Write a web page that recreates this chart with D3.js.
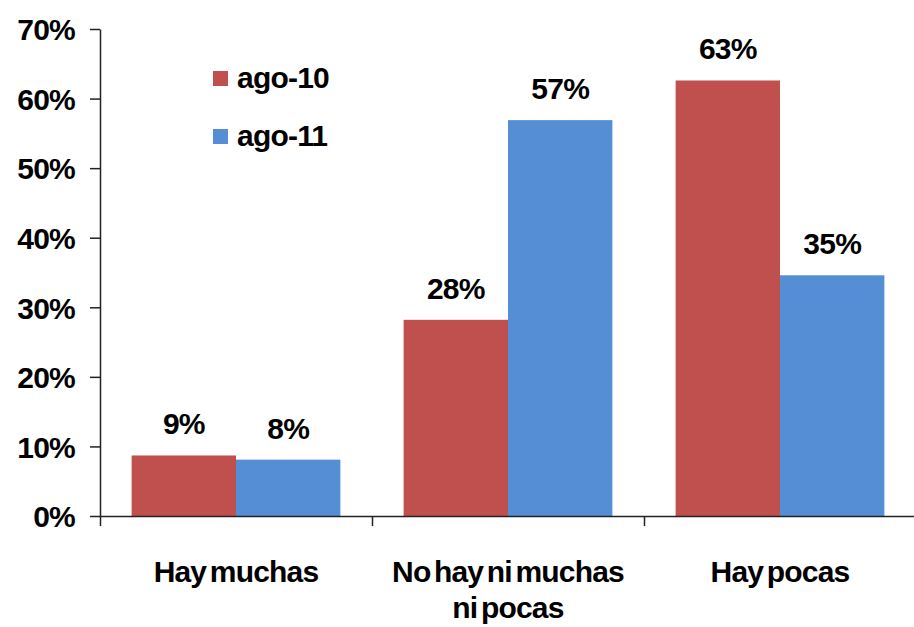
<!DOCTYPE html>
<html>
<head>
<meta charset="utf-8">
<script src="https://cdn.jsdelivr.net/npm/d3@7"></script>
<style>
  html, body { margin: 0; padding: 0; background: #fff; }
  svg text { font-family: "Liberation Sans", Arial, sans-serif; font-weight: bold; fill: #000; letter-spacing: -0.8px; }
</style>
</head>
<body>
<svg id="chart" width="914" height="627"></svg>
<script>
const categories = [["Hay muchas"], ["No hay ni muchas", "ni pocas"], ["Hay pocas"]];
const seriesNames = ["ago-10", "ago-11"];
const seriesColors = ["#C0504D", "#558ED5"];
const ago10 = [0.087, 0.282, 0.626];
const ago11 = [0.081, 0.569, 0.346];
const ago10Labels = ["9%", "28%", "63%"];
const ago11Labels = ["8%", "57%", "35%"];
const yTicks = [0, 0.1, 0.2, 0.3, 0.4, 0.5, 0.6, 0.7];

(function () {
const svg = d3.select("#chart");
const mLeft = 100, mRight = 916, mTop = 29, mBottom = 516;

const x0 = d3.scaleBand().domain(d3.range(categories.length)).range([mLeft, mRight]).paddingInner(0.2325).paddingOuter(0.11625);
const x1 = d3.scaleBand().domain(d3.range(seriesNames.length)).range([0, x0.bandwidth()]);
const y = d3.scaleLinear().domain([0, 0.7]).range([mBottom, mTop]);
const xb = d3.scaleLinear().domain([0, categories.length]).range([mLeft, mRight]);

const series = [ago10, ago11];
const labels = [ago10Labels, ago11Labels];

// bars
series.forEach((vals, s) => {
  svg.append("g").selectAll("rect").data(vals).join("rect")
    .attr("x", (d, i) => x0(i) + x1(s))
    .attr("y", d => y(d))
    .attr("width", x1.bandwidth())
    .attr("height", d => y(0) - y(d))
    .attr("fill", seriesColors[s]);
  svg.append("g").selectAll("text").data(vals).join("text")
    .attr("x", (d, i) => x0(i) + x1(s) + x1.bandwidth() / 2)
    .attr("y", d => y(d) - 21)
    .attr("text-anchor", "middle")
    .attr("font-size", 30)
    .text((d, i) => labels[s][i]);
});

// y axis
const yAxis = svg.append("g").attr("transform", `translate(${mLeft},0)`)
  .call(d3.axisLeft(y).tickValues(yTicks).tickFormat(d3.format(".0%")).tickSize(10).tickSizeOuter(0).tickPadding(15));
yAxis.attr("font-family", null).attr("font-size", null);
yAxis.select(".domain").attr("stroke", "#222").attr("stroke-width", 1.5);
yAxis.selectAll(".tick line").attr("stroke", "#222").attr("stroke-width", 1.5);
yAxis.selectAll(".tick text").attr("font-size", 30).attr("dy", "0.36em");

// x axis
const xAxis = svg.append("g").attr("transform", `translate(0,${mBottom})`)
  .call(d3.axisBottom(xb).tickValues(d3.range(categories.length + 1)).tickFormat("").tickSize(10).tickSizeOuter(0));
xAxis.select(".domain").attr("stroke", "#222").attr("stroke-width", 1.5);
xAxis.selectAll(".tick line").attr("stroke", "#222").attr("stroke-width", 1.5);

// category labels
categories.forEach((lines, i) => {
  const cx = x0(i) + x0.bandwidth() / 2;
  const t = svg.append("text")
    .attr("x", cx)
    .attr("y", 582)
    .attr("text-anchor", "middle")
    .attr("font-size", 30)
    .style("word-spacing", "-4px");
  lines.forEach((ln, j) => {
    t.append("tspan").attr("x", cx).attr("dy", j === 0 ? 0 : 36).text(ln);
  });
});

// legend
const legend = svg.append("g");
seriesNames.forEach((name, s) => {
  const ly = 88 + s * 58;
  legend.append("rect").attr("x", 213).attr("y", ly - 17).attr("width", 15).attr("height", 15).attr("fill", seriesColors[s]);
  legend.append("text").attr("x", 237).attr("y", ly).attr("font-size", 30).text(name);
});
})();
</script>
</body>
</html>
